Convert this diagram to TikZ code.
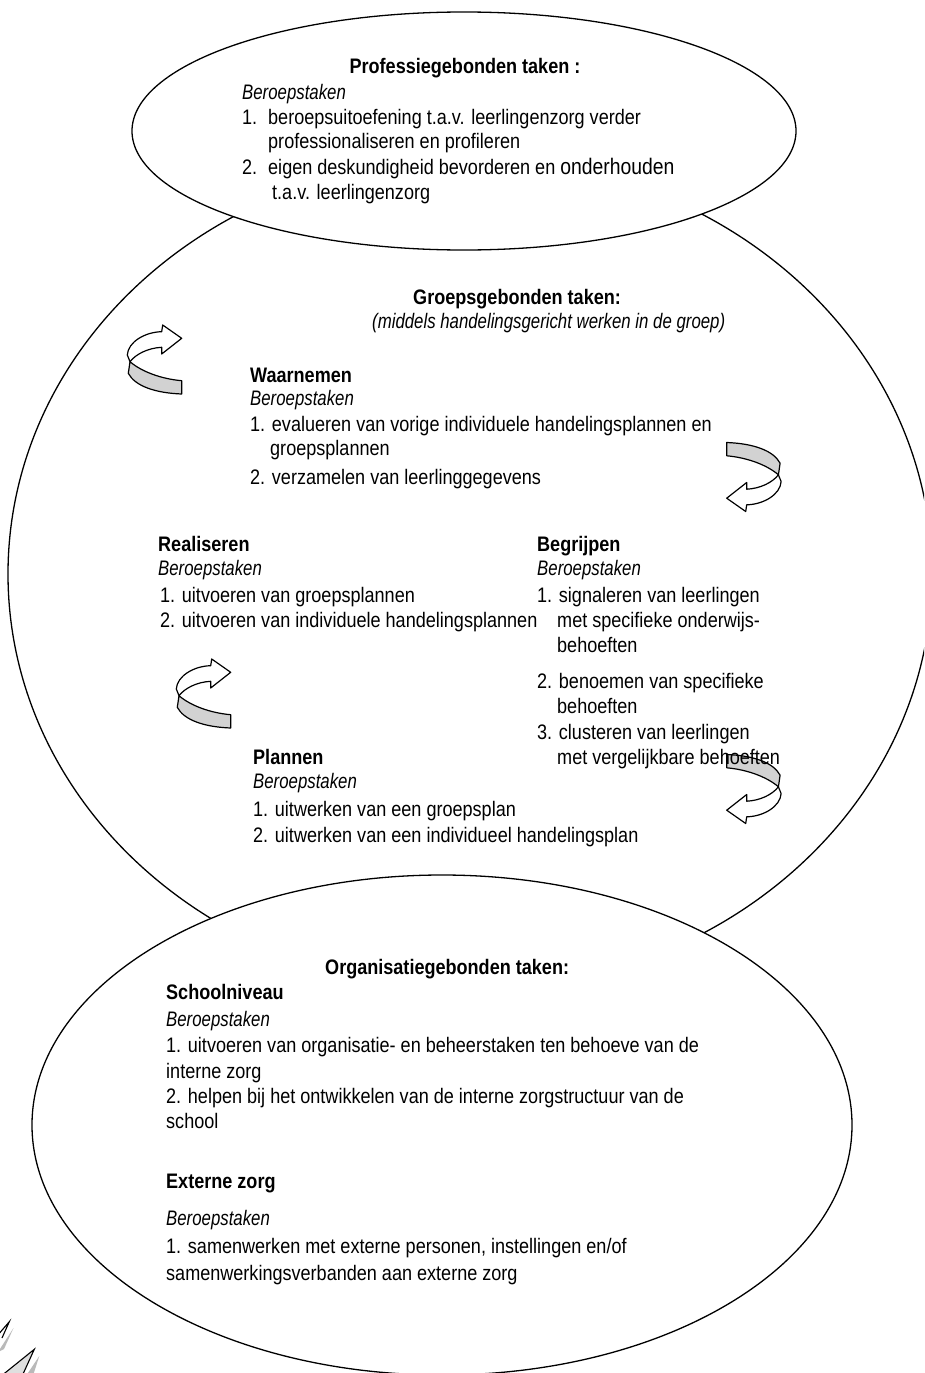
\documentclass[tikz,border=0pt]{standalone}
\usepackage{fontspec}
\setmainfont[FakeStretch=0.86, ItalicFeatures={FakeStretch=0.8}]{Liberation Sans}
\begin{document}
\begin{tikzpicture}[x=1pt,y=-1pt,
  txt/.style={anchor=base west, inner sep=0pt, font=\fontsize{21}{24}\selectfont},
  hd/.style={anchor=base west, inner sep=0pt, font=\fontsize{21}{24}\selectfont\bfseries},
  itx/.style={anchor=base west, inner sep=0pt, font=\fontsize{21}{24}\selectfont\itshape},
  ell/.style={draw=black, line width=1.3pt, fill=white},
  ribbon/.style={draw=black, line width=1.2pt, fill=gray!35, line join=round},
  arrowtop/.style={draw=black, line width=1.2pt, fill=white, line join=round},
  curvarrow/.pic={
    \filldraw[ribbon] (-24.5,2.2) .. controls (-12.5,12.5) and (7.5,19.5) .. (27.2,21.2)
       -- (27.2,34.5) .. controls (0.5,33.5) and (-19.5,26.5) .. (-26.2,13.8) -- cycle;
    \filldraw[arrowtop] (-27.2,-4.5) .. controls (-26.5,-17.5) and (-9.5,-27.5) .. (7.2,-27.8)
       -- (8.2,-34.5) -- (27.2,-21.2) -- (7.2,-5.5) -- (7.2,-12.2)
       .. controls (-6.5,-11.5) and (-18.5,-5.5) .. (-24.5,2.2) -- cycle;
  }]
\useasboundingbox (0,0) rectangle (924,1373);
\clip (0,0) rectangle (924,1373);
\fill[white] (0,0) rectangle (924,1373);

% ellipses
\draw[ell] (470,574) ellipse [x radius=462pt, y radius=416pt];
\draw[ell] (464,131) ellipse [x radius=332pt, y radius=119pt];
\draw[ell] (442,1125) ellipse [x radius=410pt, y radius=250pt];

% curved arrows
\pic at (154.5,359.5) {curvarrow};
\pic[rotate=180] at (753.9,477) {curvarrow};
\pic at (203.5,693.5) {curvarrow};
\pic[rotate=180] at (753.9,789) {curvarrow};

% spikes bottom-left
\fill[gray!55] (-2,1352) -- (13.5,1328) -- (4,1349) -- cycle;
\draw[black, line width=1.1pt] (-3,1336) -- (9.3,1321.7) -- (2,1338);
\fill[gray!55] (20,1385) -- (39.3,1356) -- (30,1385) -- cycle;
\filldraw[fill=gray!25, draw=black, line width=1.1pt] (-10,1385) -- (34.3,1349.3) -- (18,1385) -- cycle;

% top ellipse text
\node[hd, anchor=base] (ph) at (465,73) {Professiegebonden taken :};
\node[itx] (pb) at (242,99) {Beroepstaken};
\node[txt] (p1n) at (242,124) {1.};
\node[txt] (p1) at (268,124) {beroepsuitoefening t.a.v. leerlingenzorg verder};
\node[txt] (p1b) at (268,148) {professionaliseren en profileren};
\node[txt] (p2n) at (242,174) {2.};
\node[txt] (p2) at (268,174) {eigen deskundigheid bevorderen en {\fontsize{22.5}{25}\selectfont onderhouden}};
\node[txt] (p2b) at (272,199) {t.a.v. leerlingenzorg};

% middle ellipse text
\node[hd] (gh) at (413,304) {Groepsgebonden taken:};
\node[itx] (gs) at (372,328) {(middels handelingsgericht werken in de groep)};

\node[hd] (wh) at (250,382) {Waarnemen};
\node[itx] (wb) at (250,405) {Beroepstaken};
\node[txt] (w1) at (250,431) {1. evalueren van vorige individuele handelingsplannen en};
\node[txt] (w1b) at (270,455) {groepsplannen};
\node[txt] (w2) at (250,484) {2. verzamelen van leerlinggegevens};

\node[hd] (rh) at (158,551) {Realiseren};
\node[itx] (rb) at (158,575) {Beroepstaken};
\node[txt] (r1) at (160,602) {1. uitvoeren van groepsplannen};
\node[txt] (r2) at (160,627) {2. uitvoeren van individuele handelingsplannen};

\node[hd] (bh) at (537,551) {Begrijpen};
\node[itx] (bb) at (537,575) {Beroepstaken};
\node[txt] (b1) at (537,602) {1. signaleren van leerlingen};
\node[txt] (b1b) at (557,627) {met specifieke onderwijs-};
\node[txt] (b1c) at (557,652) {behoeften};
\node[txt] (b2) at (537,688) {2. benoemen van specifieke};
\node[txt] (b2b) at (557,713) {behoeften};
\node[txt] (b3) at (537,739) {3. clusteren van leerlingen};
\node[txt] (b3b) at (557,764) {met vergelijkbare behoeften};

\node[hd] (lh) at (253,764) {Plannen};
\node[itx] (lb) at (253,788) {Beroepstaken};
\node[txt] (l1) at (253,816) {1. uitwerken van een groepsplan};
\node[txt] (l2) at (253,842) {2. uitwerken van een individueel handelingsplan};

% bottom ellipse text
\node[hd] (oh) at (325,974) {Organisatiegebonden taken:};
\node[hd] (sh) at (166,999) {Schoolniveau};
\node[itx] (sb) at (166,1026) {Beroepstaken};
\node[txt] (s1) at (166,1052) {1. uitvoeren van organisatie- en beheerstaken ten behoeve van de};
\node[txt] (s1b) at (166,1078) {interne zorg};
\node[txt] (s2) at (166,1103) {2. helpen bij het ontwikkelen van de interne zorgstructuur van de};
\node[txt] (s2b) at (166,1128) {school};
\node[hd] (eh) at (166,1188) {Externe zorg};
\node[itx] (eb) at (166,1225) {Beroepstaken};
\node[txt] (e1) at (166,1253) {1. samenwerken met externe personen, instellingen en/of};
\node[txt] (e1b) at (166,1280) {samenwerkingsverbanden aan externe zorg};
\end{tikzpicture}
\end{document}
